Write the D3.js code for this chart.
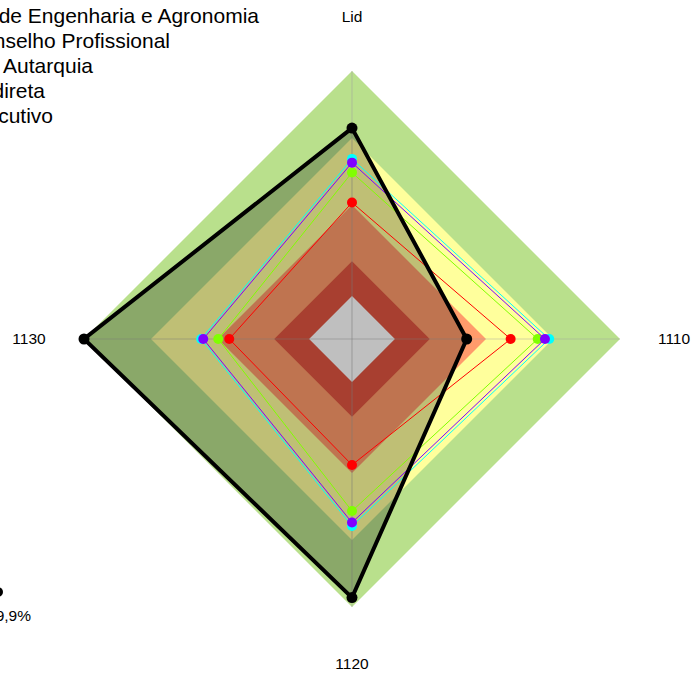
<!DOCTYPE html>
<html>
<head>
<meta charset="utf-8">
<script src="https://cdn.jsdelivr.net/npm/d3@7"></script>
<style>
  html, body { margin: 0; padding: 0; background: #fff; overflow: hidden; }
  text { font-family: "Liberation Sans", Arial, sans-serif; fill: #000; }
</style>
</head>
<body>
<script>
// axes of the radar, clockwise from the top
const axes = ["Lid", "1110", "1120", "1130"];

// reference bands (upper limit of each band, percent)
const bandLimits = [16, 29, 50, 75, 100];

// series (percent of full radius)
const seriesNames = ["Conselho Federal de Engenharia e Agronomia", "Conselho Profissional", "Autarquia", "Administração Indireta", "Poder Executivo"];
const confeaValues = [78.7, 42.8, 96.5, 100];
const conselhoValues = [65.8, 72.0, 68.5, 55.5];
const autarquiaValues = [67.2, 73.6, 69.8, 56.3];
const indiretaValues = [62.1, 69.3, 64.2, 49.9];
const executivoValues = [50.9, 59.2, 47.0, 45.8];

const legendNote = "99,9%";

// set the dimensions of the diagram
const width = 696, height = 673;
const cx = 352, cy = 339, R = 268;

const bandColors = ["#ffffff", "#e05540", "#ff9b6b", "#ffff9c", "#b9e08c"];

const r = d3.scaleLinear().domain([0, 100]).range([0, R]);
const angle = d3.scalePoint().domain(axes).range([0, 270]);  // degrees, 0 = up

const pt = (axis, v) => {
    const a = angle(axis) * Math.PI / 180;
    return [r(v) * Math.sin(a), -r(v) * Math.cos(a)];
};
const poly = vals => "M" + axes.map((a, i) => pt(a, vals[i]).join(",")).join("L") + "Z";

const svg = d3.select("body").append("svg")
    .attr("width", width)
    .attr("height", height),
    g = svg.append("g").attr("transform", "translate(" + cx + "," + cy + ")");

// bands, biggest first
g.selectAll(".band")
    .data(bandLimits.map((l, i) => ({ l, c: bandColors[i] })).reverse())
    .enter().append("path")
    .attr("class", "band")
    .attr("d", d => poly(axes.map(() => d.l)))
    .style("fill", d => d.c);

// spokes
g.selectAll(".spoke")
    .data(axes)
    .enter().append("line")
    .attr("class", "spoke")
    .attr("x2", d => pt(d, 100)[0])
    .attr("y2", d => pt(d, 100)[1])
    .style("stroke", "#a0a0a0")
    .style("stroke-opacity", 0.45)
    .style("stroke-width", 1.2);

// the main series gets a dark transparent fill
g.append("path")
    .attr("d", poly(confeaValues))
    .style("fill", "rgba(0,0,0,0.25)")
    .style("stroke", "none");

// thin comparison series
const thin = [
    { vals: autarquiaValues, color: "#00ffff" },
    { vals: indiretaValues, color: "#80ff00" },
    { vals: executivoValues, color: "#ff0000" },
    { vals: conselhoValues, color: "#8000ff" }
];
thin.forEach(s => {
    g.append("path")
        .attr("d", poly(s.vals))
        .style("fill", "none")
        .style("stroke", s.color)
        .style("stroke-width", 1);
    g.selectAll(null)
        .data(s.vals)
        .enter().append("circle")
        .attr("cx", (d, i) => pt(axes[i], d)[0])
        .attr("cy", (d, i) => pt(axes[i], d)[1])
        .attr("r", 5)
        .style("fill", s.color);
});

// main series outline and dots
g.append("path")
    .attr("d", poly(confeaValues))
    .style("fill", "none")
    .style("stroke", "#000")
    .style("stroke-width", 4)
    .style("stroke-linejoin", "miter");
g.selectAll(".main-dot")
    .data(confeaValues)
    .enter().append("circle")
    .attr("class", "main-dot")
    .attr("cx", (d, i) => pt(axes[i], d)[0])
    .attr("cy", (d, i) => pt(axes[i], d)[1])
    .attr("r", 5.5)
    .style("fill", "#000");

// axis labels
const labelPos = { "Lid": [0, -317], "1110": [322, 5], "1120": [0, 330], "1130": [-323, 5] };
g.selectAll(".axis-label")
    .data(axes)
    .enter().append("text")
    .attr("class", "axis-label")
    .attr("x", d => labelPos[d][0])
    .attr("y", d => labelPos[d][1])
    .attr("text-anchor", "middle")
    .style("font-size", "15.5px")
    .text(d => d);

// legend, mostly off the left edge
const legendRight = [259, 170, 93, 45, 53];
svg.selectAll(".legend")
    .data([seriesNames[0], seriesNames[1], seriesNames[2], "Indireta", "Executivo"])
    .enter().append("text")
    .attr("class", "legend")
    .attr("x", (d, i) => legendRight[i])
    .attr("y", (d, i) => 23 + i * 25)
    .attr("text-anchor", "end")
    .style("font-size", "21px")
    .text(d => d);

// note at the bottom left
svg.append("circle").attr("cx", -2).attr("cy", 592).attr("r", 5).style("fill", "#000");
svg.append("text")
    .attr("x", 31).attr("y", 621)
    .attr("text-anchor", "end")
    .style("font-size", "15.5px")
    .text(legendNote);
</script>
</body>
</html>
